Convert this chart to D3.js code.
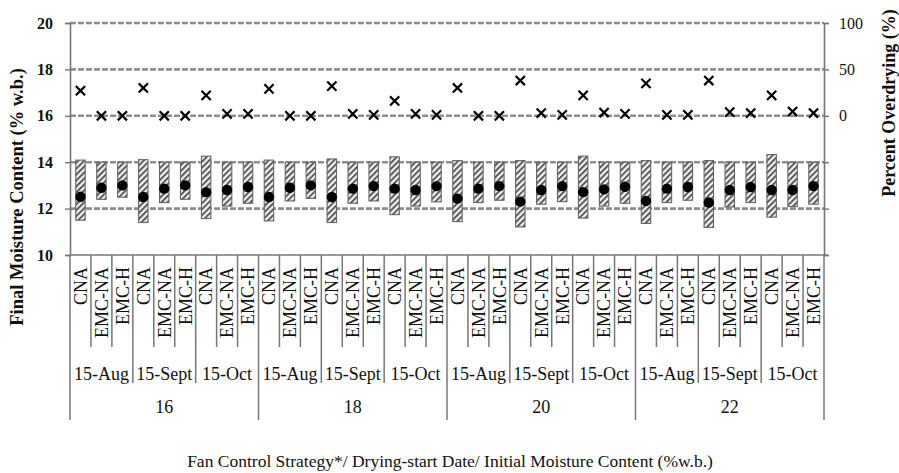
<!DOCTYPE html>
<html>
<head>
<meta charset="utf-8">
<script src="https://cdn.jsdelivr.net/npm/d3@7"></script>
<style>
  html, body { margin: 0; padding: 0; background: #fff; }
  svg { display: block; }
  text { font-family: "Liberation Serif", "Times New Roman", serif; fill: #111; }
</style>
</head>
<body>
<svg id="chart" width="899" height="473"></svg>
<script>
// Hierarchical categories: initial moisture > drying-start date > fan strategy
const moistureGroups = ["16", "18", "20", "22"];
const startDates = ["15-Aug", "15-Sept", "15-Oct"];
const strategies = ["CNA", "EMC-NA", "EMC-H"];

// Final moisture content (% w.b.) per case: range and mean
const mcMax = [14.09, 14.0, 14.0, 14.11, 14.0, 14.0, 14.26, 14.0, 14.0,
               14.09, 14.0, 14.0, 14.14, 14.0, 14.0, 14.23, 14.0, 14.0,
               14.07, 14.0, 14.0, 14.07, 14.0, 14.0, 14.26, 14.0, 14.0,
               14.07, 14.0, 14.0, 14.07, 14.0, 14.0, 14.33, 14.0, 14.0];
const mcMin = [11.50, 12.40, 12.49, 11.40, 12.26, 12.40, 11.57, 12.11, 12.23,
               11.47, 12.33, 12.44, 11.40, 12.23, 12.33, 11.74, 12.11, 12.29,
               11.44, 12.26, 12.36, 11.21, 12.19, 12.30, 11.59, 12.11, 12.23,
               11.36, 12.26, 12.36, 11.19, 12.07, 12.26, 11.63, 12.09, 12.19];
const mcMean = [12.51, 12.90, 13.00, 12.50, 12.86, 13.00, 12.71, 12.80, 12.93,
                12.50, 12.90, 13.00, 12.50, 12.86, 12.97, 12.86, 12.80, 12.97,
                12.43, 12.86, 12.97, 12.30, 12.80, 12.97, 12.71, 12.83, 12.94,
                12.33, 12.86, 12.93, 12.26, 12.80, 12.93, 12.80, 12.80, 12.97];
// Percent overdrying (%)
const overdry = [27, 0, 0, 30, 0, 0, 22, 2, 2,
                 29, 0, 0, 32, 2, 1, 16, 2, 1,
                 30, 0, 0, 38, 3, 1, 22, 3.5, 2,
                 35, 1, 1, 38, 4, 3, 22, 4.6, 3];

const leftTicks = [10, 12, 14, 16, 18, 20];
const rightTicks = [-150, -100, -50, 0, 50, 100];
const rightLabels = [0, 50, 100];
const gridValues = [12, 14, 16, 18, 20];

// build the flat case list
const cases = [];
moistureGroups.forEach(m => startDates.forEach(d => strategies.forEach(s => {
  cases.push({ m, d, s });
})));
cases.forEach((c, i) => {
  c.i = i; c.max = mcMax[i]; c.min = mcMin[i]; c.mean = mcMean[i]; c.od = overdry[i];
});

const svg = d3.select("#chart");
const plotLeft = 70, plotRight = 824, plotTop = 23, plotBottom = 255;

const x = d3.scaleBand().domain(d3.range(cases.length)).range([plotLeft, plotRight]).padding(0);
const y = d3.scaleLinear().domain([10, 20]).range([plotBottom, plotTop]);
const y2 = d3.scaleLinear().domain([-150, 100]).range([plotBottom, plotTop]);
const bw = x.bandwidth();

// hatch pattern for the range bars
const defs = svg.append("defs");
const pat = defs.append("pattern")
  .attr("id", "hatch").attr("patternUnits", "userSpaceOnUse")
  .attr("width", 4.2).attr("height", 4.2)
  .attr("patternTransform", "rotate(45)");
pat.append("rect").attr("width", 4.2).attr("height", 4.2).attr("fill", "#f0f0f0");
pat.append("line").attr("x1", 1).attr("y1", 0).attr("x2", 1).attr("y2", 4.2)
  .attr("stroke", "#555").attr("stroke-width", 1.9);

// horizontal gridlines
svg.append("g").selectAll("line").data(gridValues).join("line")
  .attr("x1", plotLeft).attr("x2", plotRight)
  .attr("y1", d => y(d)).attr("y2", d => y(d))
  .attr("stroke", "#8f8f8f").attr("stroke-width", 2.6)
  .attr("stroke-dasharray", "6,2");

// left axis
const yAxis = d3.axisLeft(y).tickValues(leftTicks).tickSize(5).tickPadding(12).tickFormat(d3.format("d"));
const gy = svg.append("g").attr("transform", `translate(${plotLeft},0)`).call(yAxis);
gy.attr("font-family", null);
gy.select(".domain").attr("stroke", "#777").attr("stroke-width", 1.6);
gy.selectAll(".tick line").attr("stroke", "#777").attr("stroke-width", 1.4);
gy.selectAll(".tick text").style("font-family", "Liberation Serif").style("font-size", "16px")
  .style("font-weight", "bold").attr("fill", "#222");

// right axis
const y2Axis = d3.axisRight(y2).tickValues(rightTicks).tickSize(5).tickPadding(10)
  .tickFormat(d => rightLabels.includes(d) ? d3.format("d")(d) : "");
const gy2 = svg.append("g").attr("transform", `translate(${plotRight},0)`).call(y2Axis);
gy2.attr("font-family", null);
gy2.select(".domain").attr("stroke", "#777").attr("stroke-width", 1.6);
gy2.selectAll(".tick line").attr("stroke", "#777").attr("stroke-width", 1.4);
gy2.selectAll(".tick text").style("font-family", "Liberation Serif").style("font-size", "16px")
  .attr("fill", "#222");

// x axis baseline
svg.append("line").attr("x1", plotLeft).attr("x2", plotRight + 3).attr("y1", plotBottom).attr("y2", plotBottom)
  .attr("stroke", "#777").attr("stroke-width", 1.6);

// range bars
const barW = bw * 0.45;
svg.append("g").selectAll("rect").data(cases).join("rect")
  .attr("x", d => x(d.i) + (bw - barW) / 2)
  .attr("width", barW)
  .attr("y", d => y(d.max))
  .attr("height", d => y(d.min) - y(d.max))
  .attr("fill", "url(#hatch)")
  .attr("stroke", "#666").attr("stroke-width", 1.1);

// mean dots
svg.append("g").selectAll("circle").data(cases).join("circle")
  .attr("cx", d => x(d.i) + bw / 2)
  .attr("cy", d => y(d.mean))
  .attr("r", 5.2).attr("fill", "#000");

// overdrying crosses on the right scale
const xs = 4.6;
svg.append("g").selectAll("path").data(cases).join("path")
  .attr("d", d => {
    const cx = x(d.i) + bw / 2, cy = y2(d.od);
    return `M${cx - xs},${cy - xs}L${cx + xs},${cy + xs}M${cx - xs},${cy + xs}L${cx + xs},${cy - xs}`;
  })
  .attr("stroke", "#000").attr("stroke-width", 2.2).attr("fill", "none");

// hierarchical category axis: separators
const bounds = d3.range(cases.length + 1);
svg.append("g").selectAll("line").data(bounds).join("line")
  .attr("x1", i => plotLeft + i * bw).attr("x2", i => plotLeft + i * bw)
  .attr("y1", plotBottom)
  .attr("y2", i => i % 9 === 0 ? 420 : (i % 3 === 0 ? 383 : 347))
  .attr("stroke", "#777").attr("stroke-width", 1.5);

// strategy labels (rotated)
svg.append("g").selectAll("text").data(cases).join("text")
  .attr("transform", d => `translate(${x(d.i) + bw / 2},267) rotate(-90)`)
  .attr("text-anchor", "end").attr("dy", "0.35em")
  .style("font-size", "18px")
  .text(d => d.s);

// date labels
const dateGroups = d3.range(cases.length / 3);
svg.append("g").selectAll("text").data(dateGroups).join("text")
  .attr("x", g => plotLeft + (g * 3 + 1.5) * bw)
  .attr("y", 380)
  .attr("text-anchor", "middle")
  .style("font-size", "18px")
  .text(g => startDates[g % 3]);

// moisture labels
svg.append("g").selectAll("text").data(moistureGroups).join("text")
  .attr("x", (m, k) => plotLeft + (k * 9 + 4.5) * bw)
  .attr("y", 413)
  .attr("text-anchor", "middle")
  .style("font-size", "18px")
  .text(m => m);

// axis titles
svg.append("text")
  .attr("x", 450).attr("y", 467).attr("text-anchor", "middle")
  .style("font-size", "17.5px")
  .text("Fan Control Strategy*/ Drying-start Date/ Initial Moisture Content (%w.b.)");

svg.append("text")
  .attr("transform", "translate(17,197) rotate(-90)")
  .attr("text-anchor", "middle").attr("dy", "0.35em")
  .style("font-size", "18.5px").style("font-weight", "bold")
  .text("Final Moisture Content (% w.b.)");

svg.append("text")
  .attr("transform", "translate(889,103) rotate(-90)")
  .attr("text-anchor", "middle").attr("dy", "0.35em")
  .style("font-size", "18px").style("font-weight", "bold")
  .text("Percent Overdrying (%)");
</script>
</body>
</html>
